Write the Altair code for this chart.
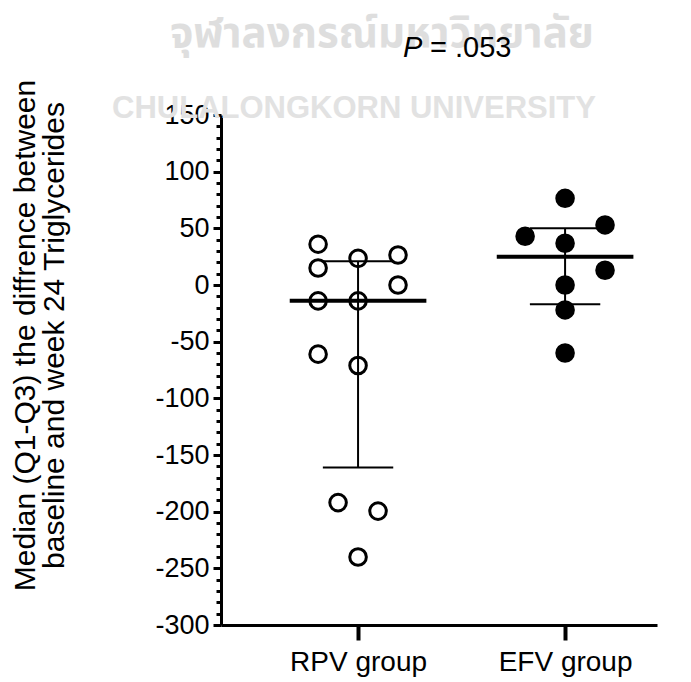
import altair as alt
import pandas as pd

groups = ["RPV group", "EFV group"]
rpv_values = [36, 15, -14, -61, 23.5, -14, -71, 26.5, 0, -192, -199.5, -240]
rpv_cols = [-1, -1, -1, -1, 0, 0, 0, 1, 1, -0.5, 0.5, 0]
efv_values = [76.5, 53, 43, 36.8, 13, 0, -22, -60]
efv_cols = [0, 1, -1, 0, 1, 0, 0, 0]
medians = [-14, 25]
q1s = [-161, -17]
q3s = [21, 50]
y_ticks = list(range(-300, 151, 10))
title_p = "P"
title_rest = "= .053"
wm_thai = "จุฬาลงกรณ์มหาวิทยาลัย"
wm_eng = "CHULALONGKORN UNIVERSITY"
y_title = ["Median (Q1-Q3) the diffrence between", "baseline and week 24 Triglycerides"]

FONT = "Liberation Sans"

pts = pd.DataFrame({
    "group": [groups[0]] * len(rpv_values) + [groups[1]] * len(efv_values),
    "idx": [1] * len(rpv_values) + [2] * len(efv_values),
    "col": rpv_cols + efv_cols,
    "value": rpv_values + efv_values,
})
summ = pd.DataFrame({"group": groups, "idx": [1, 2], "median": medians, "q1": q1s, "q3": q3s})

xscale = alt.Scale(domain=[0.338, 2.444], nice=False, zero=False)
yscale = alt.Scale(domain=[-300, 150], nice=False, zero=False)

label_expr = f"datum.value == 1 ? '{groups[0]}' : (datum.value == 2 ? '{groups[1]}' : '')"
xaxis = alt.Axis(values=[1, 2], labelExpr=label_expr, title=None, grid=False,
                 domainWidth=3, domainColor="black", tickWidth=4, tickSize=15,
                 tickColor="black", labelFont=FONT, labelFontSize=28, labelColor="black",
                 labelPadding=8, labelAngle=0)
yaxis = alt.Axis(values=y_ticks,
                 labelExpr="datum.value % 50 === 0 ? toString(datum.value) : ''",
                 grid=False, domainWidth=3, domainColor="black",
                 tickWidth=3, tickColor="black",
                 tickSize={"condition": {"test": "datum.value % 50 === 0", "value": 8}, "value": 5},
                 labelFont=FONT, labelFontSize=27, labelColor="black", labelPadding=4,
                 title=y_title, titleFont=FONT, titleFontSize=30, titleFontWeight="normal",
                 titleColor="black", titleAngle=270, titleBaseline="top", titleAlign="center",
                 titleX=-211, titleY=220, titleLineHeight=29)


def X(field):
    return alt.X(field, type="quantitative", scale=xscale, axis=xaxis)


def Y(field):
    return alt.Y(field, type="quantitative", scale=yscale, axis=yaxis)


one = pd.DataFrame({"a": [0]})

wm1 = alt.Chart(one).mark_text(text=wm_thai, font="Noto Sans Thai, Loma, Garuda, Noto Sans, DejaVu Sans",
                               fontSize=42, fontWeight="bold", color="#dedede", align="center",
                               baseline="alphabetic").encode(x=alt.value(161), y=alt.value(-68))
wm2 = alt.Chart(one).mark_text(text=wm_eng, font=FONT, fontSize=31, fontWeight="bold",
                               color="#e2e2e2", align="center",
                               baseline="alphabetic").encode(x=alt.value(133), y=alt.value(3))

vline = alt.Chart(summ).mark_rule(color="black", strokeWidth=2).encode(
    x=X("idx"), y=Y("q1"), y2="q3")
med = alt.Chart(summ).transform_calculate(
    xl="datum.idx - 0.33", xr="datum.idx + 0.33").mark_rule(color="black", strokeWidth=4).encode(
    x=X("xl"), x2="xr:Q", y=Y("median"))
cap1 = alt.Chart(summ).transform_calculate(
    xl="datum.idx - 0.17", xr="datum.idx + 0.17").mark_rule(color="black", strokeWidth=2).encode(
    x=X("xl"), x2="xr:Q", y=Y("q1"))
cap3 = alt.Chart(summ).transform_calculate(
    xl="datum.idx - 0.17", xr="datum.idx + 0.17").mark_rule(color="black", strokeWidth=2).encode(
    x=X("xl"), x2="xr:Q", y=Y("q3"))

points = alt.Chart(pts).transform_calculate(
    xp="datum.idx + datum.col * 0.193").mark_point(shape="circle", size=275, strokeWidth=3,
                                                   stroke="black", opacity=1).encode(
    x=X("xp"), y=Y("value"),
    fill=alt.Fill("group:N", scale=alt.Scale(domain=groups, range=["transparent", "black"]), legend=None))

t1 = alt.Chart(one).mark_text(text=title_p, font=FONT, fontSize=29, fontStyle="italic",
                              color="black", align="left", baseline="alphabetic").encode(
    x=alt.value(182), y=alt.value(-58))
t2 = alt.Chart(one).mark_text(text=title_rest, font=FONT, fontSize=29,
                              color="black", align="left", baseline="alphabetic").encode(
    x=alt.value(209), y=alt.value(-58))

chart = alt.layer(wm1, wm2, vline, med, cap1, cap3, points, t1, t2).properties(
    width=436, height=510,
    background="white",
    autosize=alt.AutoSizeParams(type="none"),
    padding={"left": 221, "top": 115, "right": 34, "bottom": 57},
).configure_view(stroke=None)

chart.save("out.html", embed_options={"renderer": "svg", "actions": False})
